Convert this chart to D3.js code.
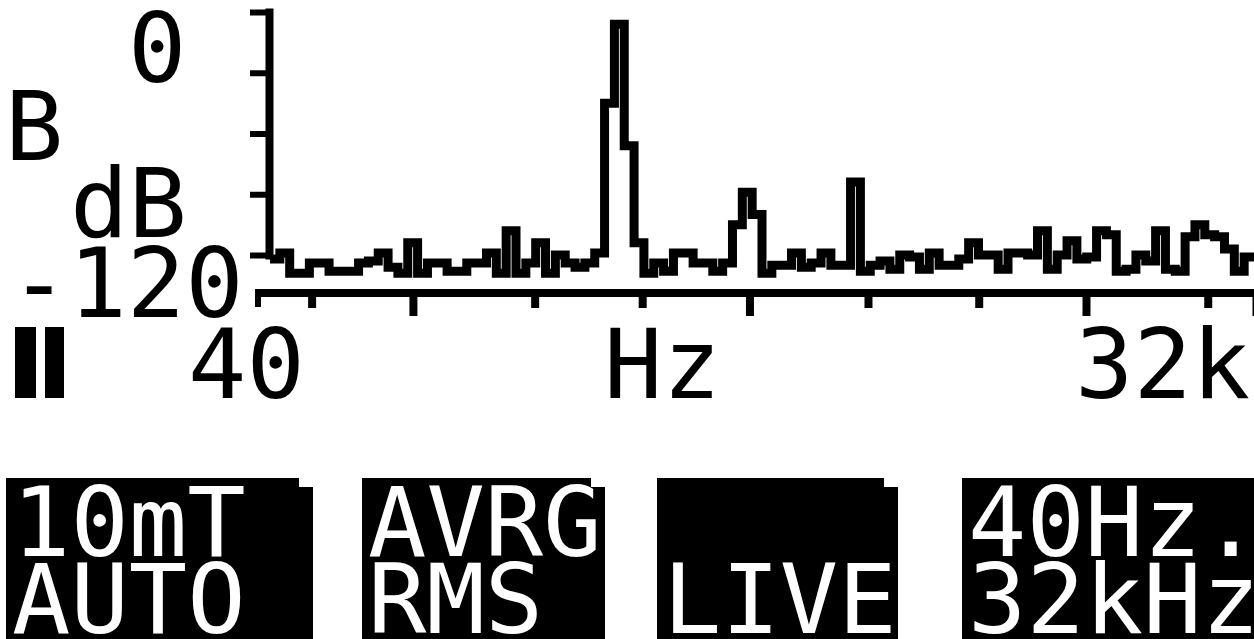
<!DOCTYPE html>
<html><head><meta charset="utf-8">
<script src="https://cdn.jsdelivr.net/npm/d3@7/dist/d3.min.js"></script>
<style>
html,body{margin:0;padding:0;background:#fff;overflow:hidden}
svg{display:block}
text{font-family:"DejaVu Sans Mono",monospace;}
</style></head><body>
<svg id="c" width="1254" height="639"></svg>
<script>
// spectrum level per display column (dB)
const levels = [
 -122,-119,-129,-129,-124,-124,-128,-128,-128,-124,
 -123,-119,-126,-129,-114,-129,-124,-124,-128,-128,
 -124,-124,-119,-129,-108,-129,-124,-114,-129,-120,
 -124,-126,-124,-119,-45,-6,-66,-114,-129,-124,
 -128,-119,-119,-124,-124,-128,-124,-105,-89,-100,
 -129,-125,-125,-119,-126,-124,-119,-125,-125,-84,
 -128,-125,-123,-127,-120,-121,-127,-119,-125,-125,
 -122,-114,-120,-120,-127,-119,-119,-120,-108,-127,
 -120,-113,-122,-121,-108,-110,-128,-127,-120,-123,
 -108,-127,-128,-111,-105,-110,-111,-117,-128,-121
];
const yTicks = [-120, -90, -60, -30, 0];
const freqMinor = [50, 230, 480, 2250, 4800, 23000];
const freqMajor = [100, 1000, 10000, 32000];
const freqRange = [40, 32000];
const yLabelTop = "0";
const unitLabels = ["B", "dB"];
const yLabelBottom = "-120";
const xLabels = ["40", "Hz", "32k"];
const softKeys = [
  {top: "10mT", bottom: "AUTO"},
  {top: "AVRG", bottom: "RMS"},
  {top: "", bottom: "LIVE"},
  {top: "40Hz.", bottom: "32kHz"}
];

const svg = d3.select("#c");
svg.append("rect").attr("width",1254).attr("height",639).attr("fill","#fff");

const y = d3.scaleLinear().domain([-120, 0]).range([255, 12]);
const xi = d3.scaleLinear().domain([0, levels.length]).range([270, 1254]);
const xf = d3.scaleLog().domain(freqRange).range([279, 1256]);

// Y axis
const yAxis = svg.append("g").attr("transform","translate(269,0)")
  .call(d3.axisLeft(y).tickValues(yTicks).tickSize(19).tickSizeOuter(0).tickFormat(""));
yAxis.select(".domain").attr("stroke","#000").attr("stroke-width",8).attr("stroke-linecap","square");
yAxis.selectAll(".tick line").attr("stroke","#000").attr("stroke-width",6);

// X axis
svg.append("line").attr("x1",255).attr("x2",1254).attr("y1",293).attr("y2",293)
  .attr("stroke","#000").attr("stroke-width",8);
svg.append("line").attr("x1",258).attr("x2",258).attr("y1",289).attr("y2",307)
  .attr("stroke","#000").attr("stroke-width",6);
const xMinor = svg.append("g").attr("transform","translate(0,293)")
  .call(d3.axisBottom(xf).tickValues(freqMinor).tickSize(15).tickSizeOuter(0).tickFormat(""));
const xMajor = svg.append("g").attr("transform","translate(0,293)")
  .call(d3.axisBottom(xf).tickValues(freqMajor).tickSize(23).tickSizeOuter(0).tickFormat(""));
[xMinor, xMajor].forEach(g => {
  g.select(".domain").remove();
  g.selectAll(".tick line").attr("stroke","#000").attr("stroke-width",8);
});

// Spectrum trace
const pts = levels.map((v,i) => [i, v]);
pts.push([levels.length, levels[levels.length-1]]);
const line = d3.line().x(d => xi(d[0])).y(d => y(d[1])).curve(d3.curveStepAfter);
svg.append("path").datum(pts).attr("d", line)
  .attr("fill","none").attr("stroke","#000").attr("stroke-width",9)
  .attr("stroke-linejoin","miter");

// Labels
const fs = 97;
function txt(s, x, yy, fill) {
  return svg.append("text").attr("x",x).attr("y",yy).attr("font-size",fs)
    .attr("fill", fill || "#000").text(s);
}
txt(yLabelTop, 128, 82);
txt(unitLabels[0], 5, 160);
txt(unitLabels[1], 70, 237);
txt(yLabelBottom, 10, 317);
txt(xLabels[0], 188, 398);
txt(xLabels[1], 604, 398);
txt(xLabels[2], 1075, 398);

// pause icon
svg.append("rect").attr("x",15).attr("y",327).attr("width",21).attr("height",71).attr("fill","#000");
svg.append("rect").attr("x",45).attr("y",327).attr("width",19).attr("height",71).attr("fill","#000");

// soft keys
const boxes = [[6,313],[362,605],[657,898],[962,1275]];
softKeys.forEach((k,i) => {
  const [a,b] = boxes[i];
  const top = 478, n = 14, nh = 9;
  svg.append("path")
    .attr("d", `M${a},${top}H${b-n}V${top+nh}H${b}V650H${a}Z`)
    .attr("fill","#000");
  txt(k.top, a+6, 556, "#fff");
  txt(k.bottom, a+6, 633, "#fff");
});
</script>
</body></html>
